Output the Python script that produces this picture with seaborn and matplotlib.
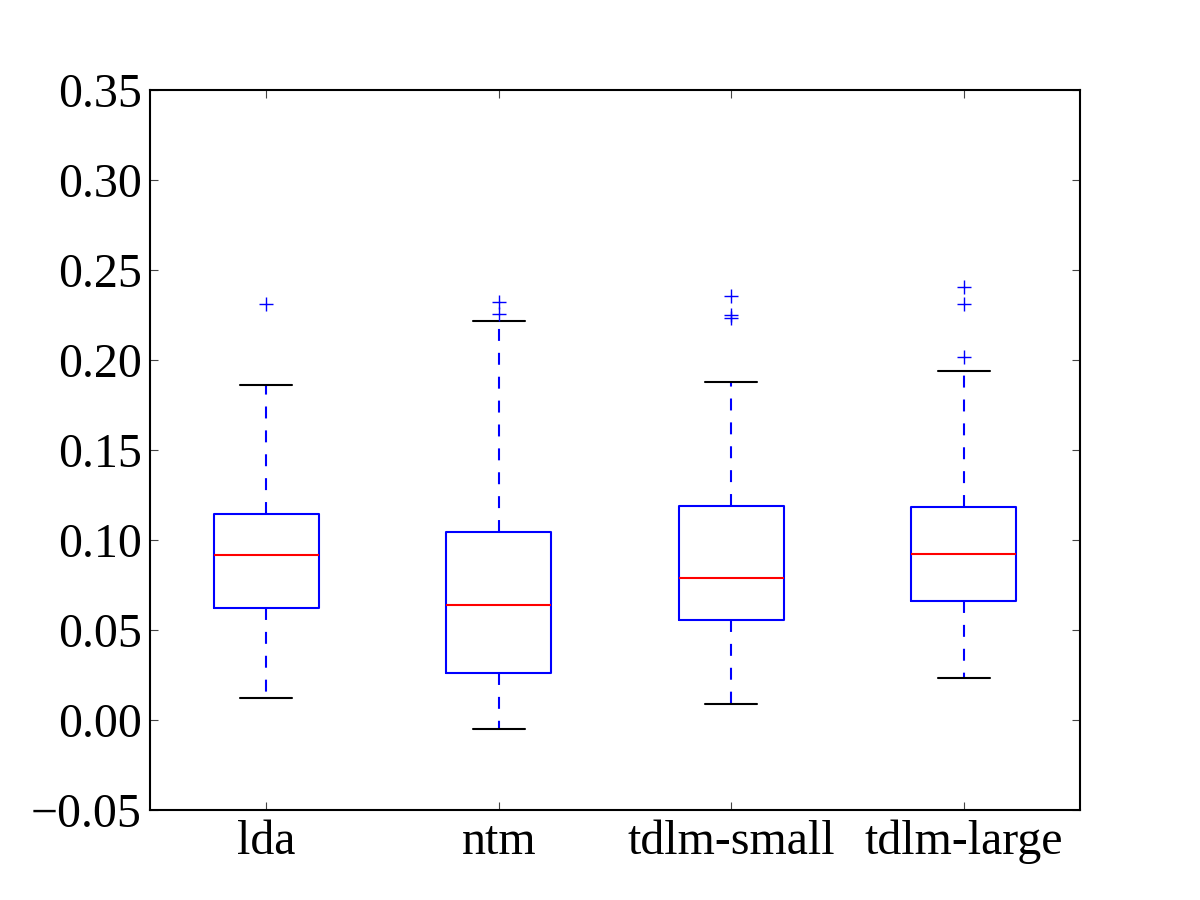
import matplotlib
matplotlib.use("Agg")
import matplotlib.pyplot as plt
import seaborn as sns

categories = ["lda", "ntm", "tdlm-small", "tdlm-large"]
q1 = [0.0621, 0.0259, 0.0556, 0.0659]
median = [0.0915, 0.0641, 0.0791, 0.0922]
q3 = [0.1144, 0.1046, 0.1191, 0.1185]
whisker_low = [0.0121, -0.0052, 0.0089, 0.0235]
whisker_high = [0.1861, 0.2217, 0.1879, 0.1941]
fliers = [
    [0.2311],
    [0.2321, 0.2254],
    [0.2357, 0.2250, 0.2232],
    [0.2407, 0.2311, 0.2015],
]
y_ticks = [-0.05, 0.00, 0.05, 0.10, 0.15, 0.20, 0.25, 0.30, 0.35]

sns.set_style("ticks")
plt.rcParams["font.family"] = ["Liberation Serif", "DejaVu Serif"]
plt.rcParams["lines.scale_dashes"] = False
plt.rcParams["text.color"] = "black"
plt.rcParams["xtick.color"] = "black"
plt.rcParams["ytick.color"] = "black"

fig = plt.figure(figsize=(12, 9), dpi=100)
ax = fig.add_axes([0.125, 0.1, 0.775, 0.8])

stats = []
for i, name in enumerate(categories):
    stats.append(dict(label=name, q1=q1[i], med=median[i], q3=q3[i],
                      whislo=whisker_low[i], whishi=whisker_high[i],
                      fliers=fliers[i]))

ax.bxp(stats, positions=range(1, len(categories) + 1), widths=0.45,
       showfliers=True, capwidths=0.225,
       boxprops=dict(color="blue", linewidth=1.5),
       medianprops=dict(color="red", linewidth=1.5),
       whiskerprops=dict(color="blue", linewidth=1.5, linestyle=(0, (8.6, 8.6))),
       capprops=dict(color="black", linewidth=1.5),
       flierprops=dict(marker="+", markeredgecolor="blue", markersize=10,
                       markeredgewidth=1.0, linestyle="none"))

ax.set_xlim(0.5, 4.5)
ax.set_ylim(-0.05, 0.35)
ax.set_yticks(y_ticks)
ax.set_yticklabels([f"{v:.2f}".replace("-", "\u2212") for v in y_ticks])
ax.set_xticks(range(1, len(categories) + 1))
ax.set_xticklabels(categories)

for s in ax.spines.values():
    s.set_visible(True)
    s.set_linewidth(1.5)
    s.set_color("black")
ax.tick_params(axis="both", which="major", direction="in", length=6, width=0.8,
               color="#444444", labelcolor="black", labelsize=34.5, pad=6,
               top=True, right=True, bottom=True, left=True)
ax.tick_params(axis="x", pad=7)
ax.grid(False)

fig.savefig("out.png", dpi=100, facecolor="white")
